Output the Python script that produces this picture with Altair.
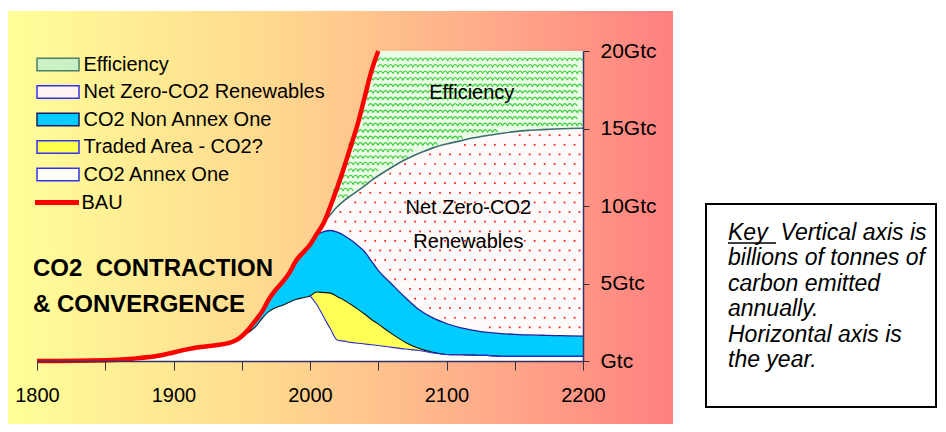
import altair as alt
import numpy as np
import pandas as pd

# ---------------- data (Gtc per year) ----------------
years = [1800, 1850, 1870, 1890, 1900, 1910, 1920, 1930, 1940, 1945,
         1950, 1955, 1960, 1965, 1970, 1975, 1980, 1985, 1990, 1995,
         2000, 2005, 2010, 2015, 2020, 2025, 2030, 2035, 2040, 2045, 2050,
         2060, 2070, 2080, 2090, 2100, 2110, 2120, 2130, 2140, 2150,
         2160, 2170, 2180, 2190, 2200]

# Business as usual (red line), 1800-2050
bau = [0.0, 0.05, 0.15, 0.35, 0.55, 0.75, 0.9, 1.0, 1.15, 1.3,
       1.6, 2.05, 2.6, 3.2, 4.0, 4.6, 5.1, 5.7, 6.5, 7.0,
       7.5, 8.2, 8.9, 10.0, 11.2, 12.5, 13.9, 15.3, 17.0, 18.7, 20.0]

# top of CO2 Annex One (white) = lower edge of traded area
annex_alloc = [0.0, 0.05, 0.15, 0.35, 0.55, 0.75, 0.9, 1.0, 1.15, 1.3,
               1.55, 1.85, 2.2, 2.75, 3.2, 3.45, 3.6, 3.8, 3.98, 4.08,
               4.2, 3.63, 2.84, 2.06, 1.35, 1.28, 1.2, 1.15, 1.1, 1.05, 1.0,
               0.88, 0.77, 0.68, 0.52, 0.42, 0.4, 0.38, 0.36, 0.3, 0.3,
               0.3, 0.3, 0.3, 0.3, 0.3]

# top of traded area (black line)
annex_total = [0.0, 0.05, 0.15, 0.35, 0.55, 0.75, 0.9, 1.0, 1.15, 1.3,
               1.55, 1.85, 2.2, 2.75, 3.2, 3.45, 3.6, 3.8, 3.98, 4.08,
               4.2, 4.45, 4.42, 4.38, 4.15, 3.92, 3.65, 3.35, 3.03, 2.68, 2.38,
               1.75, 1.2, 0.8, 0.56, 0.42, 0.4, 0.38, 0.36, 0.3, 0.3,
               0.3, 0.3, 0.3, 0.3, 0.3]

# top of CO2 Non Annex One (blue)
nonannex_top = [0.0, 0.05, 0.15, 0.35, 0.55, 0.75, 0.9, 1.0, 1.15, 1.3,
                1.6, 2.05, 2.6, 3.2, 4.0, 4.6, 5.1, 5.7, 6.5, 7.0,
                7.5, 8.1, 8.35, 8.42, 8.32, 8.1, 7.8, 7.45, 7.05, 6.45, 5.85,
                4.95, 4.08, 3.3, 2.78, 2.42, 2.15, 1.98, 1.85, 1.77, 1.72,
                1.68, 1.66, 1.64, 1.62, 1.61]

# top of Net Zero-CO2 Renewables
renew_top = [0.0, 0.05, 0.15, 0.35, 0.55, 0.75, 0.9, 1.0, 1.15, 1.3,
             1.6, 2.05, 2.6, 3.2, 4.0, 4.6, 5.1, 5.7, 6.5, 7.0,
             7.5, 8.2, 8.9, 9.45, 9.95, 10.35, 10.67, 10.98, 11.3, 11.65, 11.95,
             12.5, 13.0, 13.4, 13.75, 14.0, 14.2, 14.4, 14.55, 14.68, 14.8,
             14.88, 14.93, 14.97, 15.0, 15.02]

# top of Efficiency (BAU, cut at the 20 Gtc top of the chart)
eff_top = bau + [20.0] * (len(years) - len(bau))

series_names = ["Efficiency", "Net Zero-CO2 Renewables", "CO2 Non Annex One",
                "Traded Area - CO2?", "CO2 Annex One"]
legend_fill = ["#C9F1C5", "#FFF4F4", "#00CCFF", "#FFFF4D", "#FFFFFF"]
legend_stroke = ["#4F7F68", "#3333EE", "#1A1A66", "#3333EE", "#3333EE"]

x_ticks = [1800, 1850, 1900, 1950, 2000, 2050, 2100, 2150, 2200]
y_ticks = [0, 5, 10, 15, 20]

key_lines = ["Key\u00a0 Vertical axis is", "billions of tonnes of", "carbon emitted",
             "annually.", "Horizontal axis is", "the year."]
title_lines = ["CO2\u00a0 CONTRACTION", "& CONVERGENCE"]

# ---------------- tables ----------------
n = len(years)
bands = {
    "CO2 Annex One": ([0.0] * n, annex_alloc),
    "Traded Area - CO2?": (annex_alloc, annex_total),
    "CO2 Non Annex One": (annex_total, nonannex_top),
    "Net Zero-CO2 Renewables": (nonannex_top, renew_top),
    "Efficiency": (renew_top, eff_top),
}
rows = []
for name, (lo, hi) in bands.items():
    for yr, a, b in zip(years, lo, hi):
        rows.append({"year": yr, "lo": a, "hi": b, "series": name})
areas_df = pd.DataFrame(rows)

edge_rows = []
for yr, v in zip(years, annex_total):
    edge_rows.append({"year": yr, "value": v, "edge": "total"})
for yr, v in zip(years, annex_alloc):
    if yr >= 2000:
        edge_rows.append({"year": yr, "value": v, "edge": "alloc"})
for yr, v in zip(years, nonannex_top):
    if yr >= 1945:
        edge_rows.append({"year": yr, "value": v, "edge": "nonannex"})
for yr, v in zip(years, renew_top):
    if yr >= 2005:
        edge_rows.append({"year": yr, "value": v, "edge": "renew"})
edges_df = pd.DataFrame(edge_rows)


# texture of the fill patterns: a staggered grid kept inside each band
def texture(lo_arr, hi_arr, x_step, y_step, start, lo_pad, hi_pad):
    pts = []
    x = start
    while x <= 2200:
        r = 0
        y = y_step * 0.5
        while y < 20:
            xx = x + (x_step / 2 if r % 2 else 0)
            lo = float(np.interp(xx, years, lo_arr)) + lo_pad
            hi = min(float(np.interp(xx, years, hi_arr)), 20.0) - hi_pad
            if lo < y < hi and xx <= 2198:
                pts.append({"year": xx, "value": y})
            r += 1
            y += y_step
        x += x_step
    return pd.DataFrame(pts)


dots_df = texture(nonannex_top, renew_top, 7.3, 0.62, 2004, 0.25, 0.2)
zig_df = texture(renew_top, eff_top, 7.3, 0.42, 2006, 0.3, 0.22)

bau_df = pd.DataFrame({"year": years[:len(bau)], "value": bau, "name": "BAU"})
one = pd.DataFrame({"k": [0]})

FONT = "Liberation Sans"

x_scale = alt.Scale(domain=[1800, 2200], nice=False, zero=False)
y_scale = alt.Scale(domain=[0, 20], nice=False)
x_axis = alt.Axis(values=x_ticks, format="d",
                  labelExpr="datum.value % 100 == 0 ? datum.label : ''",
                  title=None, grid=False, tickSize=9, tickColor="#333333",
                  domainColor="#333366", domainWidth=1.5, labelFont=FONT,
                  labelFontSize=20, labelColor="black", labelBaseline="middle",
                  labelPadding=25, labelFlush=False, labelOverlap=False, zindex=1)
y_axis = alt.Axis(orient="right", values=y_ticks,
                  labelExpr="datum.value == 0 ? 'Gtc' : datum.value + 'Gtc'",
                  title=None, grid=False, tickSize=6, tickColor="#333333",
                  domainColor="#333366", domainWidth=1.5, labelFont=FONT,
                  labelFontSize=21, labelColor="black", labelPadding=11,
                  labelFlush=False, labelOverlap=False, zindex=1)


def X(field="year"):
    return alt.X(f"{field}:Q", scale=x_scale, axis=x_axis)


def Y(field):
    return alt.Y(f"{field}:Q", scale=y_scale, axis=y_axis)


# ---------------- layers ----------------
gradient = alt.Chart(one).mark_rect(
    fill={"gradient": "linear", "x1": 0, "x2": 1, "y1": 0, "y2": 0,
          "stops": [{"offset": 0, "color": "#FFFF99"},
                    {"offset": 0.4, "color": "#FFD88F"},
                    {"offset": 0.7, "color": "#FFAE8A"},
                    {"offset": 1, "color": "#FF8080"}]}
).encode(x=alt.value(-29), x2=alt.value(636), y=alt.value(-40), y2=alt.value(380))

area_fill = {
    "CO2 Annex One": "#FFFFFF",
    "Traded Area - CO2?": "#FFFF55",
    "CO2 Non Annex One": "#00CCFF",
    "Net Zero-CO2 Renewables": "#FFFAFA",
    "Efficiency": "#EAFBE6",
}
area_layers = []
for name in ["CO2 Annex One", "Traded Area - CO2?", "CO2 Non Annex One",
             "Net Zero-CO2 Renewables", "Efficiency"]:
    area_layers.append(
        alt.Chart(areas_df).transform_filter(alt.datum.series == name)
        .mark_area(fill=area_fill[name], interpolate="monotone", clip=True)
        .encode(x=X(), y=Y("lo"), y2="hi:Q")
    )

dots = alt.Chart(dots_df).mark_square(size=3, color="#FF1A1A", opacity=1).encode(
    x=X(), y=Y("value"))
zigs = alt.Chart(zig_df).mark_point(
    shape="M-1,0.45Q-0.5,-0.55,0,0.45Q0.5,-0.55,1,0.45", size=100, filled=False,
    color="#2ECC2E", strokeWidth=1.1, opacity=1).encode(x=X(), y=Y("value"))

edge_style = {
    "total": ("#111111", 1.1),
    "alloc": ("#2B2BD9", 1.1),
    "nonannex": ("#22229A", 1.3),
    "renew": ("#3F6F6F", 1.6),
}
edge_layers = []
for name, (col, w) in edge_style.items():
    edge_layers.append(
        alt.Chart(edges_df).transform_filter(alt.datum.edge == name)
        .mark_line(color=col, strokeWidth=w, interpolate="monotone", clip=True)
        .encode(x=X(), y=Y("value"))
    )

area_legend = alt.Legend(title=None, orient="none", direction="vertical",
                         legendX=11, legendY=3.5, padding=0,
                         symbolType="M-3,-0.9H3V0.9H-3Z", symbolSize=196,
                         symbolStrokeWidth=1.5, labelFont=FONT, labelFontSize=20,
                         labelColor="black", labelOffset=15.5, rowPadding=7.5,
                         labelLimit=400)
legend_layer = (
    alt.Chart(areas_df).transform_filter("false")
    .mark_area(strokeWidth=1.5)
    .encode(
        x=X(), y=Y("lo"), y2="hi:Q",
        fill=alt.Fill("series:N", scale=alt.Scale(domain=series_names, range=legend_fill),
                      legend=area_legend),
        stroke=alt.Stroke("series:N", scale=alt.Scale(domain=series_names, range=legend_stroke),
                          legend=area_legend),
    )
)

bau_line = alt.Chart(bau_df).mark_line(strokeWidth=4.5, interpolate="monotone").encode(
    x=X(), y=Y("value"),
    color=alt.Color("name:N", scale=alt.Scale(domain=["BAU"], range=["#FF0000"]),
                    legend=alt.Legend(title=None, orient="none", legendX=-4.5, legendY=127,
                                      padding=0, symbolType="stroke", symbolSize=1936,
                                      symbolStrokeWidth=5, labelFont=FONT, labelFontSize=20,
                                      labelColor="black", labelOffset=0)),
)

eff_text = alt.Chart(one).mark_text(text="Efficiency", font=FONT, fontSize=20,
                                    color="black", align="center", baseline="middle").encode(
    x=alt.datum(2118.5), y=alt.datum(17.27))
ren_text = alt.Chart(one).mark_text(text=["Net Zero-CO2", "Renewables"], font=FONT, fontSize=20,
                                    lineHeight=34, color="black", align="center",
                                    baseline="middle").encode(
    x=alt.datum(2116), y=alt.datum(9.87))

title_text = alt.Chart(one).mark_text(text=title_lines, font=FONT, fontSize=24, fontWeight="bold",
                                      lineHeight=36, color="black", align="left",
                                      baseline="middle").encode(
    x=alt.value(-4), y=alt.value(218))

key_box = alt.Chart(one).mark_rect(fill="white", stroke="black", strokeWidth=2).encode(
    x=alt.value(669), x2=alt.value(899), y=alt.value(153), y2=alt.value(356))
key_text = alt.Chart(one).mark_text(text=key_lines, font=FONT, fontSize=23, fontStyle="italic",
                                    lineHeight=25.4, color="black", align="left",
                                    baseline="middle").encode(
    x=alt.value(691), y=alt.value(182))
key_underline = alt.Chart(one).mark_rule(color="black", strokeWidth=1.5).encode(
    x=alt.value(691), x2=alt.value(739), y=alt.value(192))

chart = alt.layer(
    gradient, *area_layers, dots, zigs, *edge_layers, bau_line, legend_layer,
    eff_text, ren_text, title_text, key_box, key_text, key_underline
).properties(
    width=546, height=310,
    padding={"left": 29, "top": 43, "right": 355, "bottom": 63},
    autosize=alt.AutoSizeParams(type="none"),
    background="white",
).configure_view(stroke="transparent")

chart.save("out.html", embed_options={"renderer": "svg", "actions": False})
